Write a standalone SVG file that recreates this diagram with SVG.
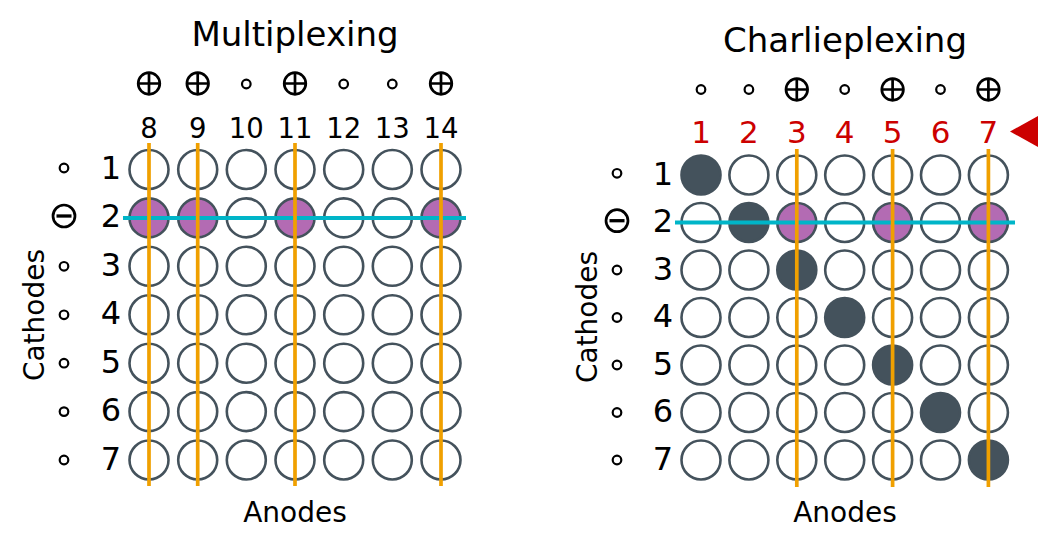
<svg xmlns="http://www.w3.org/2000/svg" width="1059" height="548" viewBox="0 0 1059 548">
<style>
text{font-family:"DejaVu Sans",sans-serif;fill:#000}
.t{font-size:34px;text-anchor:middle}
.cl{font-size:27.5px;text-anchor:middle}
.rl{font-size:32px;text-anchor:middle}
.red{font-size:31px;text-anchor:middle;fill:#cc0000}
.ax{font-size:28px;text-anchor:middle}
.led{fill:#fff;stroke:#44525c;stroke-width:2.6}
.on{fill:#b36bb3;stroke:#44525c;stroke-width:2.6}
.dk{fill:#44525c;stroke:#44525c;stroke-width:2.6}
.sm{fill:none;stroke:#000;stroke-width:2.2}
.sym{fill:none;stroke:#000;stroke-width:2.7}
.bar{fill:none;stroke:#000;stroke-width:3.3}
.or{stroke:#f0a000;stroke-width:3.7}
.cy{stroke:#00b5c8;stroke-width:4}
</style>
<defs>
<g id="plus"><circle r="10.8" class="sym"/><path d="M-10.5 0H10.5M0-10.5V10.5" class="sym"/></g>
<g id="minus"><circle r="11" class="sym"/><path d="M-7.5 0H7.5" class="bar"/></g>
</defs>
<g id="multiplexing">
<text class="t" x="295" y="46">Multiplexing</text>
<g id="mx-anode-states">
<use href="#plus" x="149" y="83.5"/><use href="#plus" x="197.7" y="83.5"/><circle class="sm" cx="246.3" cy="84" r="4.3"/><use href="#plus" x="295" y="83.5"/><circle class="sm" cx="343.7" cy="84" r="4.3"/><circle class="sm" cx="392.3" cy="84" r="4.3"/><use href="#plus" x="441" y="83.5"/>
</g>
<g id="mx-anode-labels">
<text class="cl" x="149" y="137.5">8</text><text class="cl" x="197.7" y="137.5">9</text><text class="cl" x="246.3" y="137.5">10</text><text class="cl" x="295" y="137.5">11</text><text class="cl" x="343.7" y="137.5">12</text><text class="cl" x="392.3" y="137.5">13</text><text class="cl" x="441" y="137.5">14</text>
</g>
<g id="mx-cathode-states">
<circle class="sm" cx="64" cy="168" r="4.3"/><use href="#minus" x="64" y="216"/><circle class="sm" cx="64" cy="266.3" r="4.3"/><circle class="sm" cx="64" cy="314.8" r="4.3"/><circle class="sm" cx="64" cy="363.2" r="4.3"/><circle class="sm" cx="64" cy="411.6" r="4.3"/><circle class="sm" cx="64" cy="460" r="4.3"/>
</g>
<g id="mx-cathode-labels">
<text class="rl" x="111" y="179">1</text><text class="rl" x="111" y="227.4">2</text><text class="rl" x="111" y="275.8">3</text><text class="rl" x="111" y="324.3">4</text><text class="rl" x="111" y="372.7">5</text><text class="rl" x="111" y="421.1">6</text><text class="rl" x="111" y="469.5">7</text>
</g>
<text class="ax" transform="translate(44 315) rotate(-90)">Cathodes</text>
<text class="ax" x="295" y="522">Anodes</text>
<g id="mx-leds">
<circle class="led" cx="149" cy="169.5" r="19.5"/><circle class="led" cx="197.7" cy="169.5" r="19.5"/><circle class="led" cx="246.3" cy="169.5" r="19.5"/><circle class="led" cx="295" cy="169.5" r="19.5"/><circle class="led" cx="343.7" cy="169.5" r="19.5"/><circle class="led" cx="392.3" cy="169.5" r="19.5"/><circle class="led" cx="441" cy="169.5" r="19.5"/>
<circle class="on" cx="149" cy="217.9" r="19.5"/><circle class="on" cx="197.7" cy="217.9" r="19.5"/><circle class="led" cx="246.3" cy="217.9" r="19.5"/><circle class="on" cx="295" cy="217.9" r="19.5"/><circle class="led" cx="343.7" cy="217.9" r="19.5"/><circle class="led" cx="392.3" cy="217.9" r="19.5"/><circle class="on" cx="441" cy="217.9" r="19.5"/>
<circle class="led" cx="149" cy="266.3" r="19.5"/><circle class="led" cx="197.7" cy="266.3" r="19.5"/><circle class="led" cx="246.3" cy="266.3" r="19.5"/><circle class="led" cx="295" cy="266.3" r="19.5"/><circle class="led" cx="343.7" cy="266.3" r="19.5"/><circle class="led" cx="392.3" cy="266.3" r="19.5"/><circle class="led" cx="441" cy="266.3" r="19.5"/>
<circle class="led" cx="149" cy="314.8" r="19.5"/><circle class="led" cx="197.7" cy="314.8" r="19.5"/><circle class="led" cx="246.3" cy="314.8" r="19.5"/><circle class="led" cx="295" cy="314.8" r="19.5"/><circle class="led" cx="343.7" cy="314.8" r="19.5"/><circle class="led" cx="392.3" cy="314.8" r="19.5"/><circle class="led" cx="441" cy="314.8" r="19.5"/>
<circle class="led" cx="149" cy="363.2" r="19.5"/><circle class="led" cx="197.7" cy="363.2" r="19.5"/><circle class="led" cx="246.3" cy="363.2" r="19.5"/><circle class="led" cx="295" cy="363.2" r="19.5"/><circle class="led" cx="343.7" cy="363.2" r="19.5"/><circle class="led" cx="392.3" cy="363.2" r="19.5"/><circle class="led" cx="441" cy="363.2" r="19.5"/>
<circle class="led" cx="149" cy="411.6" r="19.5"/><circle class="led" cx="197.7" cy="411.6" r="19.5"/><circle class="led" cx="246.3" cy="411.6" r="19.5"/><circle class="led" cx="295" cy="411.6" r="19.5"/><circle class="led" cx="343.7" cy="411.6" r="19.5"/><circle class="led" cx="392.3" cy="411.6" r="19.5"/><circle class="led" cx="441" cy="411.6" r="19.5"/>
<circle class="led" cx="149" cy="460" r="19.5"/><circle class="led" cx="197.7" cy="460" r="19.5"/><circle class="led" cx="246.3" cy="460" r="19.5"/><circle class="led" cx="295" cy="460" r="19.5"/><circle class="led" cx="343.7" cy="460" r="19.5"/><circle class="led" cx="392.3" cy="460" r="19.5"/><circle class="led" cx="441" cy="460" r="19.5"/>
</g>
<g id="mx-connectors">
<line class="cy" x1="123" y1="217.9" x2="466" y2="217.9"/>
<line class="or" x1="149" y1="143" x2="149" y2="486"/><line class="or" x1="197.7" y1="143" x2="197.7" y2="486"/><line class="or" x1="295" y1="143" x2="295" y2="486"/><line class="or" x1="441" y1="143" x2="441" y2="486"/>
</g>
</g>
<g id="charlieplexing">
<text class="t" x="845" y="52">Charlieplexing</text>
<g id="cx-anode-states">
<circle class="sm" cx="701" cy="89.5" r="4.3"/><circle class="sm" cx="748.9" cy="89.5" r="4.3"/><use href="#plus" x="796.8" y="89.5"/><circle class="sm" cx="844.7" cy="89.5" r="4.3"/><use href="#plus" x="892.6" y="89.5"/><circle class="sm" cx="940.5" cy="89.5" r="4.3"/><use href="#plus" x="988.4" y="89.5"/>
</g>
<g id="cx-pin-labels">
<text class="red" x="701" y="143">1</text><text class="red" x="748.9" y="143">2</text><text class="red" x="796.8" y="143">3</text><text class="red" x="844.7" y="143">4</text><text class="red" x="892.6" y="143">5</text><text class="red" x="940.5" y="143">6</text><text class="red" x="988.4" y="143">7</text>
</g>
<polygon points="1010,131.5 1038,116 1038,147" fill="#cc0000"/>
<g id="cx-cathode-states">
<circle class="sm" cx="617" cy="173.3" r="4.3"/><use href="#minus" x="617" y="220.7"/><circle class="sm" cx="617" cy="270" r="4.3"/><circle class="sm" cx="617" cy="317.5" r="4.3"/><circle class="sm" cx="617" cy="365" r="4.3"/><circle class="sm" cx="617" cy="412.5" r="4.3"/><circle class="sm" cx="617" cy="460" r="4.3"/>
</g>
<g id="cx-cathode-labels">
<text class="rl" x="663" y="184.5">1</text><text class="rl" x="663" y="232">2</text><text class="rl" x="663" y="279.5">3</text><text class="rl" x="663" y="327">4</text><text class="rl" x="663" y="374.5">5</text><text class="rl" x="663" y="422">6</text><text class="rl" x="663" y="469.5">7</text>
</g>
<text class="ax" transform="translate(597 317) rotate(-90)">Cathodes</text>
<text class="ax" x="845" y="522">Anodes</text>
<g id="cx-leds">
<circle class="dk" cx="701" cy="175" r="19.5"/><circle class="led" cx="748.9" cy="175" r="19.5"/><circle class="led" cx="796.8" cy="175" r="19.5"/><circle class="led" cx="844.7" cy="175" r="19.5"/><circle class="led" cx="892.6" cy="175" r="19.5"/><circle class="led" cx="940.5" cy="175" r="19.5"/><circle class="led" cx="988.4" cy="175" r="19.5"/>
<circle class="led" cx="701" cy="222.5" r="19.5"/><circle class="dk" cx="748.9" cy="222.5" r="19.5"/><circle class="on" cx="796.8" cy="222.5" r="19.5"/><circle class="led" cx="844.7" cy="222.5" r="19.5"/><circle class="on" cx="892.6" cy="222.5" r="19.5"/><circle class="led" cx="940.5" cy="222.5" r="19.5"/><circle class="on" cx="988.4" cy="222.5" r="19.5"/>
<circle class="led" cx="701" cy="270" r="19.5"/><circle class="led" cx="748.9" cy="270" r="19.5"/><circle class="dk" cx="796.8" cy="270" r="19.5"/><circle class="led" cx="844.7" cy="270" r="19.5"/><circle class="led" cx="892.6" cy="270" r="19.5"/><circle class="led" cx="940.5" cy="270" r="19.5"/><circle class="led" cx="988.4" cy="270" r="19.5"/>
<circle class="led" cx="701" cy="317.5" r="19.5"/><circle class="led" cx="748.9" cy="317.5" r="19.5"/><circle class="led" cx="796.8" cy="317.5" r="19.5"/><circle class="dk" cx="844.7" cy="317.5" r="19.5"/><circle class="led" cx="892.6" cy="317.5" r="19.5"/><circle class="led" cx="940.5" cy="317.5" r="19.5"/><circle class="led" cx="988.4" cy="317.5" r="19.5"/>
<circle class="led" cx="701" cy="365" r="19.5"/><circle class="led" cx="748.9" cy="365" r="19.5"/><circle class="led" cx="796.8" cy="365" r="19.5"/><circle class="led" cx="844.7" cy="365" r="19.5"/><circle class="dk" cx="892.6" cy="365" r="19.5"/><circle class="led" cx="940.5" cy="365" r="19.5"/><circle class="led" cx="988.4" cy="365" r="19.5"/>
<circle class="led" cx="701" cy="412.5" r="19.5"/><circle class="led" cx="748.9" cy="412.5" r="19.5"/><circle class="led" cx="796.8" cy="412.5" r="19.5"/><circle class="led" cx="844.7" cy="412.5" r="19.5"/><circle class="led" cx="892.6" cy="412.5" r="19.5"/><circle class="dk" cx="940.5" cy="412.5" r="19.5"/><circle class="led" cx="988.4" cy="412.5" r="19.5"/>
<circle class="led" cx="701" cy="460" r="19.5"/><circle class="led" cx="748.9" cy="460" r="19.5"/><circle class="led" cx="796.8" cy="460" r="19.5"/><circle class="led" cx="844.7" cy="460" r="19.5"/><circle class="led" cx="892.6" cy="460" r="19.5"/><circle class="led" cx="940.5" cy="460" r="19.5"/><circle class="dk" cx="988.4" cy="460" r="19.5"/>
</g>
<g id="cx-connectors">
<line class="cy" x1="675" y1="222.5" x2="1015" y2="222.5"/>
<line class="or" x1="796.8" y1="149" x2="796.8" y2="487"/><line class="or" x1="892.6" y1="149" x2="892.6" y2="487"/><line class="or" x1="988.4" y1="149" x2="988.4" y2="487"/>
</g>
</g>
</svg>
